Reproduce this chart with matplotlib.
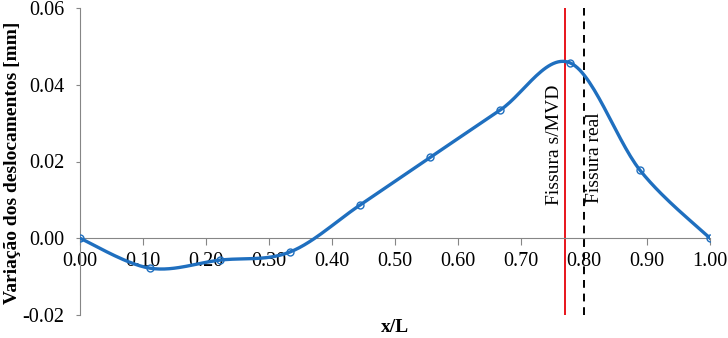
import numpy as np
import matplotlib.pyplot as plt
from matplotlib.ticker import FormatStrFormatter, MultipleLocator

plt.rcParams['font.family'] = ['Liberation Serif', 'DejaVu Serif']
plt.rcParams['axes.unicode_minus'] = False

# data
x_L = [0.0, 0.111, 0.222, 0.333, 0.444, 0.556, 0.667, 0.778, 0.889, 1.0]
desloc = [0.0, -0.0078, -0.0057, -0.0036, 0.0086, 0.0211, 0.0334, 0.0457, 0.0177, 0.0]
fissura_mvd = 0.770
fissura_real = 0.800


def smooth_curve(x, y, n=30):
    # Excel-like smoothed line (cardinal bezier through the points)
    x = np.asarray(x, float)
    y = np.asarray(y, float)
    px = np.concatenate([[x[0]], x, [x[-1]]])
    py = np.concatenate([[y[0]], y, [y[-1]]])
    xs, ys = [], []
    t = np.linspace(0, 1, n)
    for i in range(1, len(px) - 2):
        p0 = np.array([px[i], py[i]])
        p3 = np.array([px[i + 1], py[i + 1]])
        c1 = p0 + (np.array([px[i + 1], py[i + 1]]) - np.array([px[i - 1], py[i - 1]])) / 6
        c2 = p3 - (np.array([px[i + 2], py[i + 2]]) - np.array([px[i], py[i]])) / 6
        b = ((1 - t) ** 3)[:, None] * p0 + (3 * (1 - t) ** 2 * t)[:, None] * c1 \
            + (3 * (1 - t) * t ** 2)[:, None] * c2 + (t ** 3)[:, None] * p3
        xs.extend(b[:, 0])
        ys.extend(b[:, 1])
    return np.array(xs), np.array(ys)


fig = plt.figure(figsize=(7.28, 3.38), dpi=100)
ax = fig.add_axes([80 / 728, 1 - 315 / 338, 630 / 728, 307 / 338])

sx, sy = smooth_curve(x_L, desloc)
ax.plot(sx, sy, color='#1f6fbf', lw=2.4, zorder=3)
ax.plot(x_L, desloc, ls='none', marker='o', ms=5, mfc='none', mec='#1f6fbf', mew=1.0, zorder=4)

ax.axvline(fissura_mvd, color='#e8141b', lw=1.4, zorder=2)
ax.axvline(fissura_real, color='black', lw=1.4, ls=(0, (4, 3)), zorder=2)
ax.text(fissura_mvd - 0.003, 0.0086, 'Fissura s/MVD', rotation=90, ha='right', va='bottom', fontsize=14)
ax.text(fissura_real + 0.003, 0.0091, 'Fissura real', rotation=90, ha='left', va='bottom', fontsize=14)

ax.set_xlim(0, 1.0)
ax.set_ylim(-0.02, 0.06)
ax.xaxis.set_major_locator(MultipleLocator(0.1))
ax.yaxis.set_major_locator(MultipleLocator(0.02))
ax.xaxis.set_major_formatter(FormatStrFormatter('%.2f'))
ax.yaxis.set_major_formatter(FormatStrFormatter('%.2f'))

for s in ['top', 'right']:
    ax.spines[s].set_visible(False)
ax.spines['bottom'].set_position(('data', 0))
for s in ['left', 'bottom']:
    ax.spines[s].set_color('#868686')
ax.tick_params(colors='#868686', labelcolor='black', labelsize=14.5)
ax.tick_params(axis='x', pad=5, length=5)
ax.tick_params(axis='y', pad=8, length=3)

fig.text(13 / 728, 1 - 163 / 338, 'Variação dos deslocamentos [mm]', rotation=90,
         ha='center', va='center', fontsize=14, fontweight='bold')
fig.text(395 / 728, 1 - 328 / 338, 'x/L', ha='center', va='center', fontsize=14, fontweight='bold')

fig.savefig('out.png', dpi=100)
